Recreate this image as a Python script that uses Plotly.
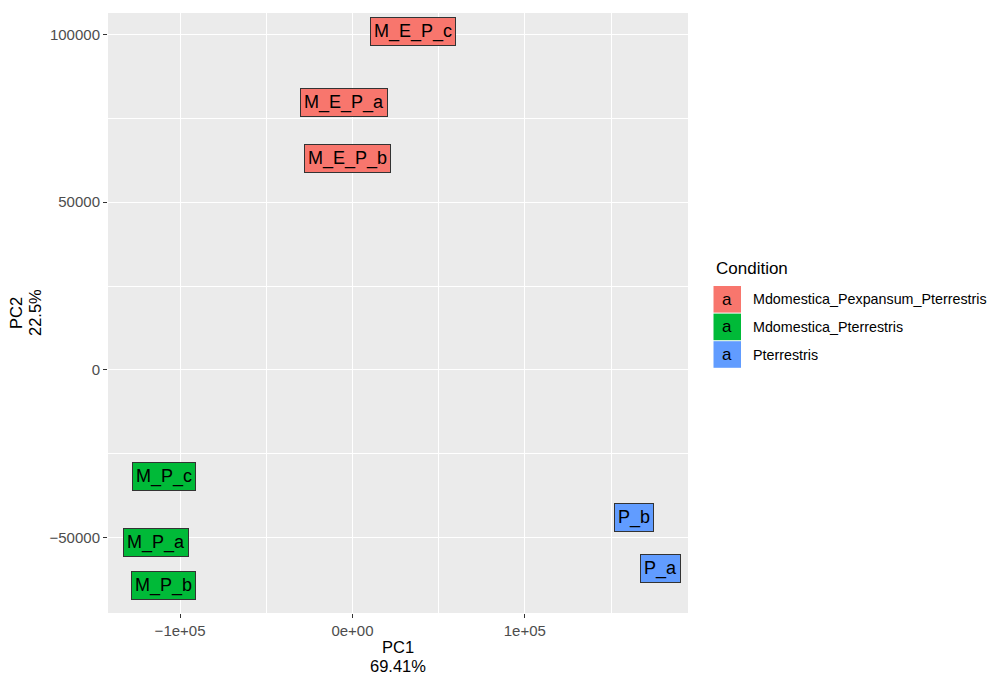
import plotly.graph_objects as go

# ---- data ----
samples = ["M_E_P_c", "M_E_P_a", "M_E_P_b", "M_P_c", "M_P_a", "M_P_b", "P_b", "P_a"]
pc1 = [34940, -5110, -2790, -109580, -114220, -109690, 163085, 178585]
pc2 = [100955, 79860, 62920, -31920, -51550, -64170, -44090, -59100]
condition = ["Mdomestica_Pexpansum_Pterrestris"] * 3 + ["Mdomestica_Pterrestris"] * 3 + ["Pterrestris"] * 2
cond_levels = ["Mdomestica_Pexpansum_Pterrestris", "Mdomestica_Pterrestris", "Pterrestris"]
cond_colors = ["#F8766D", "#00BA38", "#619CFF"]
x_ticks = [-100000, 0, 100000]
x_tick_labels = ["\u22121e+05", "0e+00", "1e+05"]
y_ticks = [-50000, 0, 50000, 100000]
y_tick_labels = ["\u221250000", "0", "50000", "100000"]
pc1_var = "69.41%"
pc2_var = "22.5%"

color_map = dict(zip(cond_levels, cond_colors))
FONT = "Liberation Sans, Arial, Helvetica, sans-serif"

W, H = 990, 674
ML, MR, MT, MB = 108, 302, 13, 61
PW, PH = W - ML - MR, H - MT - MB

def px(xp):
    return (xp - ML) / PW
def py(yp):
    return 1 - (yp - MT) / PH

fig = go.Figure()
fig.add_trace(go.Scatter(x=pc1, y=pc2, mode="markers", marker=dict(opacity=0, size=1),
                         showlegend=False, hoverinfo="skip"))

annotations = []
for s, x, y, c in zip(samples, pc1, pc2, condition):
    annotations.append(dict(
        x=x, y=y, xref="x", yref="y", text=s, showarrow=False,
        font=dict(family=FONT, size=18, color="black"),
        bgcolor=color_map[c], bordercolor="#333333", borderwidth=1, borderpad=3,
        xanchor="center", yanchor="middle"))

# axis titles
for txt, xx, yy, ang in [("PC1", 398, 647, 0), (pc1_var, 398, 665.5, 0),
                         ("PC2", 16, 313, -90), (pc2_var, 35, 313, -90)]:
    annotations.append(dict(x=px(xx), y=py(yy), xref="paper", yref="paper", text=txt,
                            showarrow=False, textangle=ang,
                            font=dict(family=FONT, size=16.5, color="black"),
                            xanchor="center", yanchor="middle"))

# legend (manual, ggplot style)
annotations.append(dict(x=px(714), y=py(268), xref="paper", yref="paper", text="Condition",
                        showarrow=False, font=dict(family=FONT, size=17, color="black"),
                        xanchor="left", yanchor="middle"))
shapes = []
key_top = 285.5
key_h = 27.6
for i, (lvl, col) in enumerate(zip(cond_levels, cond_colors)):
    y0 = key_top + i * key_h
    shapes.append(dict(type="rect", xref="paper", yref="paper",
                       x0=px(713.5), x1=px(741), y0=py(y0 + key_h - 0.5), y1=py(y0 + 0.5),
                       fillcolor=col, line=dict(width=0)))
    annotations.append(dict(x=px(727.2), y=py(y0 + key_h / 2), xref="paper", yref="paper", text="a",
                            showarrow=False, font=dict(family=FONT, size=17, color="black"),
                            xanchor="center", yanchor="middle"))
    annotations.append(dict(x=px(751), y=py(y0 + key_h / 2), xref="paper", yref="paper", text=lvl,
                            showarrow=False, font=dict(family=FONT, size=14.3, color="black"),
                            xanchor="left", yanchor="middle"))

axis_common = dict(
    showgrid=True, gridcolor="white", gridwidth=1.3,
    zeroline=False, showline=False,
    ticks="outside", ticklen=4, tickcolor="#333333", tickwidth=1.1,
    tickfont=dict(family=FONT, size=15, color="#4D4D4D"),
)

fig.update_layout(
    width=W, height=H,
    margin=dict(l=ML, r=MR, t=MT, b=MB, autoexpand=False),
    paper_bgcolor="white", plot_bgcolor="#EBEBEB",
    showlegend=False,
    annotations=annotations, shapes=shapes,
    xaxis=dict(range=[-141800, 194660], tickvals=x_ticks, ticktext=x_tick_labels,
               minor=dict(tickvals=[-150000, -50000, 50000, 150000], showgrid=True,
                          gridcolor="white", gridwidth=0.6, ticks=""),
               **axis_common),
    yaxis=dict(range=[-72490, 106410], tickvals=y_ticks, ticktext=y_tick_labels,
               minor=dict(tickvals=[-75000, -25000, 25000, 75000], showgrid=True,
                          gridcolor="white", gridwidth=0.6, ticks=""),
               **axis_common),
)

fig.write_html("out.html", config={"displayModeBar": False})

# remove the default page margin so the figure sits at the window's top-left corner
with open("out.html", "r", encoding="utf-8") as f:
    html = f.read()
html = html.replace("<head>", "<head><style>html,body{margin:0;padding:0;overflow:hidden;}</style>", 1)
with open("out.html", "w", encoding="utf-8") as f:
    f.write(html)
